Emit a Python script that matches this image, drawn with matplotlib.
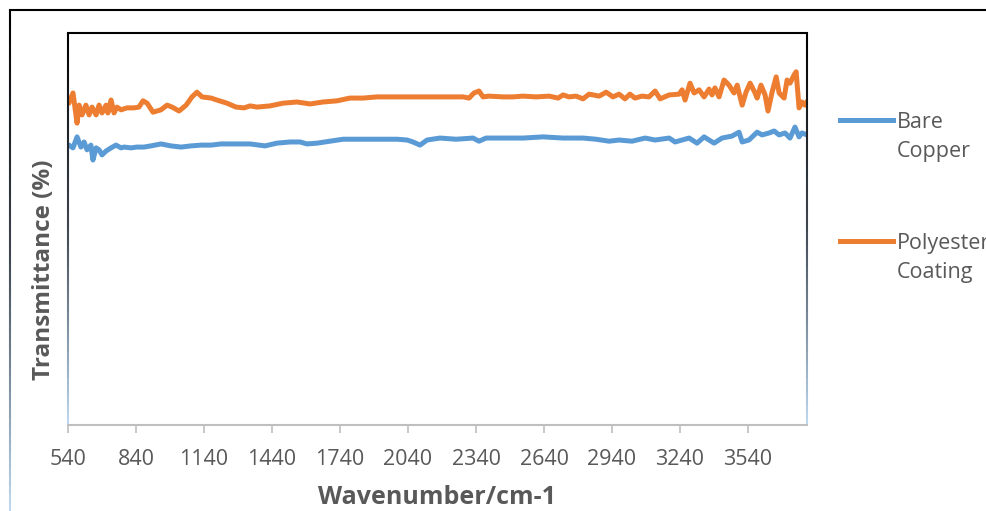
"""FTIR transmittance of bare copper vs polyester-coated copper.

Saves out.png.
"""
import matplotlib

matplotlib.use("Agg")
import matplotlib.pyplot as plt
import numpy as np
from matplotlib.collections import LineCollection
from matplotlib.colors import LinearSegmentedColormap

plt.rcParams["font.family"] = ["Open Sans", "DejaVu Sans"]

# wavenumber (cm-1) / transmittance (%) readings
poly_wn = [
    544, 562, 580, 589, 602, 619, 633, 646, 664, 677, 690, 708, 716, 730, 743,
    756, 774, 800, 831, 853, 871, 889, 915, 950, 977, 999, 1030, 1061, 1087,
    1109, 1131, 1171, 1197, 1241, 1281, 1317, 1343, 1374, 1431, 1489, 1550,
    1608, 1665, 1727, 1784, 1842, 1903, 1961, 2018, 2080, 2137, 2181, 2221,
    2283, 2309, 2331, 2353, 2371, 2397, 2459, 2503, 2547, 2605, 2662, 2702,
    2724, 2750, 2781, 2812, 2839, 2883, 2914, 2944, 2971, 2997, 3019, 3041,
    3072, 3103, 3130, 3152, 3192, 3236, 3249, 3262, 3284, 3302, 3324, 3346,
    3368, 3381, 3394, 3412, 3434, 3456, 3478, 3492, 3514, 3531, 3549, 3571,
    3580, 3597, 3615, 3628, 3646, 3664, 3677, 3699, 3712, 3725, 3743, 3752,
    3765, 3778, 3791, 3805,
]
poly_t = [
    82.1, 84.7, 77.0, 81.6, 79.1, 81.6, 79.1, 81.1, 79.1, 81.6, 79.6, 81.6,
    79.6, 82.9, 79.6, 81.1, 80.4, 80.9, 80.9, 81.1, 82.7, 82.1, 79.8, 80.4,
    81.6, 81.1, 80.1, 81.6, 83.7, 84.9, 83.7, 83.4, 82.9, 82.1, 81.1, 80.9,
    81.4, 81.1, 81.4, 82.1, 82.4, 81.9, 82.4, 82.7, 83.4, 83.4, 83.7, 83.7,
    83.7, 83.7, 83.7, 83.7, 83.7, 83.7, 83.4, 84.7, 85.2, 83.7, 83.9, 83.7,
    83.7, 83.9, 83.7, 83.9, 83.4, 84.2, 83.7, 83.9, 83.2, 84.4, 83.9, 84.9,
    83.7, 84.4, 83.2, 84.4, 83.4, 83.9, 83.7, 85.2, 83.2, 84.2, 84.4, 85.5,
    82.9, 87.2, 84.7, 85.5, 83.7, 85.7, 84.2, 86.0, 83.7, 88.0, 86.7, 84.7,
    86.7, 81.6, 84.9, 87.2, 84.7, 83.4, 86.7, 84.2, 80.1, 84.9, 88.8, 84.7,
    83.4, 88.0, 87.2, 89.3, 90.1, 80.9, 82.4, 81.6, 82.9,
]

bare_wn = [
    544, 562, 580, 597, 611, 624, 641, 650, 664, 677, 690, 708, 730, 752, 774,
    787, 818, 844, 875, 906, 950, 994, 1039, 1083, 1127, 1171, 1215, 1259,
    1303, 1343, 1409, 1462, 1519, 1564, 1594, 1639, 1696, 1753, 1815, 1872,
    1930, 1992, 2036, 2062, 2093, 2124, 2181, 2252, 2327, 2353, 2384, 2459,
    2547, 2636, 2724, 2812, 2869, 2927, 2971, 3028, 3086, 3130, 3192, 3218,
    3280, 3315, 3346, 3390, 3425, 3469, 3500, 3514, 3544, 3580, 3602, 3633,
    3655, 3677, 3703, 3725, 3747, 3765, 3778, 3800,
]
bare_t = [
    71.4, 70.7, 73.5, 70.9, 72.2, 70.2, 71.4, 67.6, 70.7, 70.2, 68.9, 69.9,
    70.7, 71.4, 70.7, 70.9, 70.7, 70.9, 70.9, 71.2, 71.7, 71.2, 70.9, 71.2,
    71.4, 71.4, 71.7, 71.7, 71.7, 71.7, 71.2, 71.9, 72.2, 72.2, 71.7, 71.9,
    72.4, 72.9, 72.9, 72.9, 72.9, 72.9, 72.7, 72.2, 71.4, 72.7, 73.2, 72.9,
    73.2, 72.4, 73.2, 73.2, 73.2, 73.5, 73.2, 73.2, 72.9, 72.4, 72.7, 72.4,
    73.2, 72.7, 73.2, 72.2, 73.2, 71.9, 73.5, 71.9, 73.2, 73.7, 74.7, 72.2,
    72.7, 74.7, 74.0, 74.5, 75.0, 74.0, 74.5, 73.2, 76.0, 73.5, 74.5, 74.0,
]

x_ticks = [540, 840, 1140, 1440, 1740, 2040, 2340, 2640, 2940, 3240, 3540]

series_names = ["Bare\nCopper", "Polyester\nCoating"]

BLUE = "#5B9BD5"
ORANGE = "#ED7D31"
TEXT = "#595959"
EDGE = LinearSegmentedColormap.from_list("edge", ["#000000", "#404852", "#BDD7EE"])
W, H = 986, 511


def gradient_line(x, y0, y1, transform, lw=1.5):
    """Vertical line fading from black (at y1) to light blue (at y0)."""
    ys = np.linspace(y0, y1, 60)
    segs = [[(x, ys[i]), (x, ys[i + 1])] for i in range(len(ys) - 1)]
    lc = LineCollection(segs, cmap=EDGE, linewidths=lw, transform=transform,
                        clip_on=False)
    lc.set_array(1 - (ys[:-1] - y0) / (y1 - y0))
    return lc


fig = plt.figure(figsize=(W / 100, H / 100), dpi=100)
ax = fig.add_axes([68 / W, 86 / H, 739 / W, 392 / H])

lines = []
for wn, t, color in ((bare_wn, bare_t, BLUE), (poly_wn, poly_t, ORANGE)):
    (ln,) = ax.plot(wn, t, color=color, lw=3.6, solid_joinstyle="round",
                    solid_capstyle="round")
    lines.append(ln)

ax.set_xlim(540, 3800)
ax.set_ylim(0, 100)
ax.set_xticks(x_ticks)
ax.set_xticklabels([str(t) for t in x_ticks])
ax.set_yticks([])
ax.tick_params(axis="x", direction="out", length=6, width=1.2, color="#BFBFBF",
               labelsize=15.5, labelcolor=TEXT, pad=11)

for side in ("left", "right"):
    ax.spines[side].set_visible(False)
ax.spines["top"].set_color("#000000")
ax.spines["top"].set_linewidth(1.5)
ax.spines["bottom"].set_color("#BFBFBF")
ax.spines["bottom"].set_linewidth(1.5)

# fading vertical edges of the plot area
for xpos in (0.0, 1.0):
    ax.add_collection(gradient_line(xpos, 0.0, 1.0, ax.transAxes))

# outer chart border: top rule and fading left rule
fig.add_artist(plt.Line2D([10 / W, 1.0], [1 - 10 / H, 1 - 10 / H],
                          color="#000000", lw=1.5, transform=fig.transFigure))
fig.add_artist(gradient_line(10 / W, 0.0, 1 - 10 / H, fig.transFigure))

ax.set_xlabel("Wavenumber/cm-1", fontsize=18, fontweight="bold", color=TEXT,
              labelpad=11)
fig.text(44 / W, 1 - 270 / H, "Transmittance (%)", rotation=90,
         fontsize=17.5, fontweight="bold", color=TEXT, ha="center",
         va="center")

# legend: handle aligned with the first line of each two-line entry
for ln, name, y_px in zip(lines, series_names, (120, 241)):
    yf = 1 - y_px / H
    fig.add_artist(plt.Line2D([840 / W, 893 / W], [yf, yf],
                              color=ln.get_color(), lw=3.6,
                              transform=fig.transFigure))
    fig.text(897 / W, yf + 8 / H, name, fontsize=15.5, color=TEXT,
             ha="left", va="top", linespacing=1.5)

fig.savefig("out.png", dpi=100)
